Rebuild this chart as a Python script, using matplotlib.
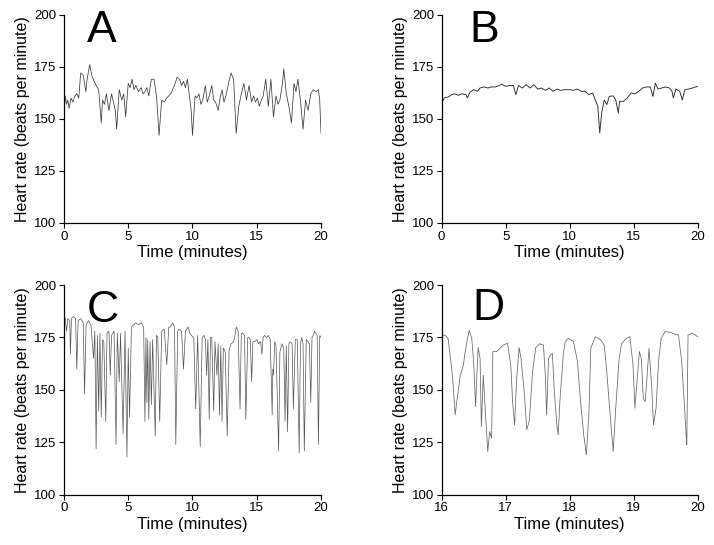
import numpy as np
import matplotlib.pyplot as plt

# Panel A: heart rate trace, 0-20 min
time_a = [0.0, 0.1, 0.2, 0.3, 0.4, 0.55, 0.7, 0.85, 1.0, 1.15, 1.3, 1.5, 1.7, 1.8, 2.0, 2.2,
          2.35, 2.5, 2.7, 2.9, 3.0, 3.15, 3.3, 3.5, 3.7, 3.85, 4.0, 4.1, 4.3, 4.5, 4.65, 4.8,
          5.0, 5.15, 5.3, 5.45, 5.6, 5.8, 6.0, 6.15, 6.3, 6.45, 6.6, 6.8, 7.0, 7.2, 7.4, 7.6,
          7.8, 8.0, 8.15, 8.3, 8.45, 8.6, 8.8, 9.0, 9.15, 9.3, 9.45, 9.6, 9.9, 10.0, 10.2,
          10.35, 10.5, 10.65, 10.8, 11.0, 11.15, 11.3, 11.5, 11.65, 11.8, 12.0, 12.15, 12.3,
          12.45, 12.6, 12.8, 13.0, 13.2, 13.4, 13.6, 13.8, 14.0, 14.2, 14.4, 14.6, 14.75,
          14.9, 15.05, 15.2, 15.35, 15.5, 15.7, 15.9, 16.1, 16.3, 16.5, 16.65, 16.8, 17.0,
          17.1, 17.3, 17.5, 17.7, 17.9, 18.05, 18.2, 18.4, 18.6, 18.8, 19.0, 19.2, 19.4,
          19.6, 19.8, 19.9, 20.0]
hr_a = [153, 161, 157, 159, 155, 160, 158, 161, 162, 160, 172, 171, 163, 169, 176, 170,
        168, 166, 164, 148, 159, 157, 162, 154, 162, 158, 154, 145, 164, 159, 162, 151,
        167, 165, 169, 164, 166, 163, 165, 162, 163, 165, 161, 169, 169, 161, 142, 159,
        158, 160, 161, 162, 164, 166, 170, 169, 166, 168, 165, 169, 154, 142, 161,
        160, 162, 157, 159, 166, 158, 161, 166, 159, 158, 154, 160, 164,
        158, 161, 167, 172, 169, 143, 156, 162, 167, 159, 166, 158, 161,
        158, 160, 156, 159, 161, 169, 156, 169, 151, 161, 157, 159, 167,
        174, 162, 156, 148, 167, 163, 169, 159, 145, 159, 154, 162, 164,
        163, 164, 159, 143]

# Panel B: heart rate trace, 0-20 min
time_b = [0.0, 0.2, 0.5, 0.8, 1.0, 1.3, 1.6, 1.9, 2.0, 2.2, 2.5, 2.8, 3.0, 3.3, 3.6, 3.9,
          4.2, 4.5, 4.7, 5.0, 5.3, 5.6, 5.8, 6.0, 6.3, 6.6, 6.9, 7.2, 7.5, 7.8, 8.1, 8.4,
          8.7, 9.0, 9.3, 9.6, 10.0, 10.3, 10.6, 10.9, 11.2, 11.5, 11.8, 12.0, 12.2, 12.35,
          12.5, 12.7, 12.9, 13.1, 13.4, 13.6, 13.8, 13.9, 14.2, 14.5, 14.8, 15.1, 15.4,
          15.7, 16.0, 16.3, 16.5, 16.7, 16.9, 17.2, 17.5, 17.8, 18.0, 18.1, 18.3, 18.6,
          18.8, 19.0, 19.3, 19.6, 20.0]
hr_b = [157.6, 160, 160.5, 161.6, 162, 161.3, 162, 161.6, 160, 162.7, 164, 163.2, 164.8,
        165.3, 164.8, 165.3, 165.3, 166, 166.6, 165.6, 166, 166, 161.6, 166, 164.8, 166.4,
        164.8, 166.4, 164.3, 164.8, 163.7, 164.8, 163.2, 164.3, 163.7, 164, 164, 163.7,
        164.3, 163.2, 163.2, 161.6, 162.4, 159, 156, 143.2, 152.8, 159, 156.8, 160.8, 161,
        159, 152.8, 158.4, 158.4, 160, 162.4, 162, 163.2, 164.8, 165.3, 165.3, 160.8, 167.2,
        164.3, 164.8, 165.3, 164.8, 163.2, 160, 164.3, 163.2, 159, 164, 164.3, 164.8, 165.6]

# Panel C: heart rate trace with frequent decelerations, 0-20 min
time_c = [0.0, 0.1, 0.2, 0.3, 0.45, 0.5, 0.58, 0.75, 0.9, 1.0, 1.1, 1.3, 1.5, 1.6, 1.72,
          1.9, 2.1, 2.3, 2.4, 2.5, 2.6, 2.7, 2.8, 2.9, 3.0, 3.1, 3.25, 3.35, 3.5, 3.6, 3.7,
          3.9, 4.05, 4.15, 4.3, 4.4, 4.6, 4.75, 4.9, 5.0, 5.1, 5.25, 5.4, 5.6, 5.8, 6.0,
          6.2, 6.3, 6.38, 6.45, 6.52, 6.6, 6.7, 6.8, 6.9, 7.1, 7.2, 7.3, 7.45, 7.6, 7.8,
          8.0, 8.15, 8.3, 8.45, 8.6, 8.7, 8.85, 8.95, 9.15, 9.3, 9.45, 9.65, 9.8, 9.9,
          10.1, 10.25, 10.4, 10.6, 10.75, 10.9, 11.0, 11.1, 11.2, 11.3, 11.4, 11.5, 11.65,
          11.75, 11.9, 12.0, 12.1, 12.2, 12.3, 12.4, 12.55, 12.7, 12.85, 13.0, 13.2, 13.3,
          13.4, 13.55, 13.7, 13.8, 13.9, 14.05, 14.15, 14.3, 14.4, 14.5, 14.6, 14.7, 14.85,
          15.0, 15.15, 15.3, 15.4, 15.5, 15.6, 15.75, 15.9, 16.05, 16.2, 16.25, 16.3, 16.4,
          16.5, 16.7, 16.8, 16.95, 17.1, 17.2, 17.3, 17.4, 17.5, 17.6, 17.75, 17.85, 18.0,
          18.15, 18.3, 18.4, 18.5, 18.6, 18.7, 18.85, 19.0, 19.1, 19.2, 19.3, 19.4, 19.5,
          19.6, 19.7, 19.8, 19.9, 20.0]
hr_c = [183, 184, 178, 184, 183, 167, 184, 185, 184, 160, 183, 184, 182, 148, 181,
        183, 181, 165, 178, 122, 176, 140, 177, 137, 174, 173, 135, 177, 178, 157, 176,
        178, 124, 177, 154, 177, 129, 178, 118, 170, 137, 180, 181, 182, 181, 182,
        180, 135, 175, 144, 174, 136, 173, 143, 174, 128, 176, 175, 135, 178, 179,
        162, 180, 180, 182, 180, 124, 178, 179, 178, 160, 178, 180, 177, 176,
        175, 141, 176, 123, 175, 176, 174, 157, 174, 136, 175, 175, 140,
        173, 157, 172, 138, 171, 135, 170, 168, 128, 169, 172, 173, 176,
        180, 178, 141, 177, 177, 176, 136, 175, 175, 174, 154, 173, 173,
        174, 172, 173, 167, 175, 176, 175, 176, 174, 138, 160, 157, 173,
        171, 121, 168, 172, 170, 135, 171, 130, 172, 173, 172, 141, 174,
        174, 120, 172, 175, 172, 121, 174, 173, 172, 144, 175, 176, 178,
        177, 176, 124, 176, 175]

# Panel D: close-up of the last 4 minutes of C
time_d = [16.0, 16.05, 16.1, 16.15, 16.18, 16.21, 16.25, 16.29, 16.31, 16.34, 16.36, 16.4,
          16.43, 16.47, 16.5, 16.53, 16.55, 16.57, 16.6, 16.62, 16.65, 16.68, 16.72, 16.75,
          16.78, 16.8, 16.86, 16.91, 16.96, 17.03, 17.08, 17.11, 17.14, 17.17, 17.21,
          17.24, 17.29, 17.33, 17.37, 17.42, 17.47, 17.53, 17.59, 17.62, 17.64, 17.67,
          17.7, 17.73, 17.76, 17.8, 17.82, 17.85, 17.9, 17.93, 17.98, 18.06, 18.12, 18.17,
          18.22, 18.26, 18.3, 18.33, 18.4, 18.48, 18.54, 18.58, 18.62, 18.68, 18.72, 18.77,
          18.81, 18.89, 18.94, 18.99, 19.02, 19.06, 19.09, 19.12, 19.15, 19.18, 19.2, 19.24,
          19.28, 19.31, 19.35, 19.39, 19.43, 19.49, 19.57, 19.65, 19.7, 19.75, 19.79, 19.82,
          19.83, 19.85, 19.92, 20.0]
hr_d = [175.4, 176.2, 174.6, 161.9, 152.4, 138.1, 147.6, 157, 158.7, 161.9, 166.7, 174,
        178.4, 174.6, 163.1, 142, 157, 170.2, 165, 132.5, 157, 141.3, 120.6, 130.2,
        127, 168.3, 168.3, 169.8, 171.4, 172.2, 161.9, 143.5, 133.3, 154.8, 170.2,
        165, 149.2, 131, 135.3, 158.7, 170.2, 172, 171.4, 157, 138.1, 165,
        166.7, 167.4, 149.2, 133.3, 128.6, 146, 166.7, 173, 174.6, 173, 164, 144.4,
        128.6, 119, 138.1, 169.8, 175.4, 174, 171.4, 158.7, 142.9, 120.6, 141.3, 164,
        172, 174.6, 175.4, 162, 141.3, 157, 168.3, 165, 146, 144.4, 152.4, 169.8,
        152.4, 133.3, 141.3, 164, 174.6, 177.8, 177.5, 176.5, 176.2, 164, 144.4, 128.6,
        123.8, 176.2, 177, 175.4]

panels = [
    ("A", time_a, hr_a, [0, 20], [0, 5, 10, 15, 20], "#3a3a3a", 0.55),
    ("B", time_b, hr_b, [0, 20], [0, 5, 10, 15, 20], "#2a2a2a", 0.65),
    ("C", time_c, hr_c, [0, 20], [0, 5, 10, 15, 20], "#555555", 0.5),
    ("D", time_d, hr_d, [16, 20], [16, 17, 18, 19, 20], "#666666", 0.55),
]
y_ticks = [100, 125, 150, 175, 200]

plt.rcParams['font.family'] = ['Liberation Sans', 'DejaVu Sans']

fig = plt.figure(figsize=(7.14, 5.45), dpi=100)
# axes boxes in figure fractions: left, bottom, width, height
boxes = [
    (0.0896, 0.591, 0.360, 0.382),
    (0.6186, 0.591, 0.3585, 0.382),
    (0.0896, 0.092, 0.360, 0.385),
    (0.6186, 0.092, 0.3585, 0.385),
]
letter_pos = [(0.09, 1.025), (0.11, 1.025), (0.09, 0.978), (0.118, 0.988)]

for (letter, t, hr, xlim, xticks, col, lw), box, lp in zip(panels, boxes, letter_pos):
    ax = fig.add_axes(box)
    ax.plot(t, hr, color=col, linewidth=lw)
    ax.set_xlim(xlim)
    ax.set_ylim(100, 200)
    ax.set_xticks(xticks)
    ax.set_yticks(y_ticks)
    ax.spines['top'].set_visible(False)
    ax.spines['right'].set_visible(False)
    for s in ['left', 'bottom']:
        ax.spines[s].set_linewidth(0.9)
    ax.tick_params(direction='out', length=3.5, width=0.8, labelsize=9.5, pad=2)
    ax.set_xlabel('Time (minutes)', fontsize=12, labelpad=2)
    ax.set_ylabel('Heart rate (beats per minute)', fontsize=11.5, labelpad=3)
    ax.text(lp[0], lp[1], letter, transform=ax.transAxes, fontsize=32,
            va='top', ha='left', color='black')

fig.savefig('out.png', dpi=100)
